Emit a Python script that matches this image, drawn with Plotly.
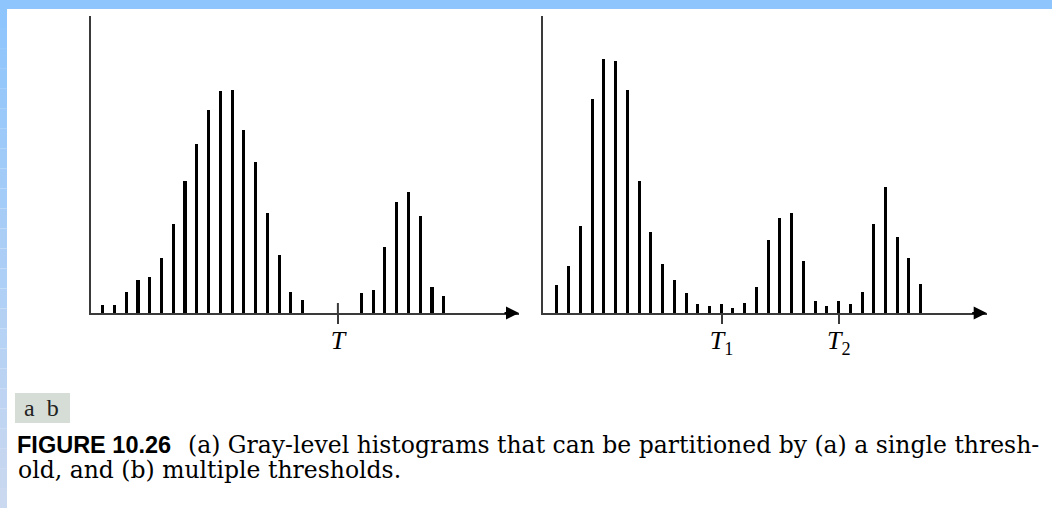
import plotly.graph_objects as go

# ---------------- data ----------------
levels_a = list(range(30))
counts_a = [8, 8, 21, 33, 36, 55, 89, 132, 169, 203, 222, 223, 183, 151, 100, 58, 21, 13,
            0, 0, 0, 0, 20, 23, 66, 111, 121, 97, 26, 17]
levels_b = list(range(32))
counts_b = [28, 47, 87, 214, 254, 252, 223, 132, 81, 49, 33, 20, 9, 7, 9, 5, 10, 26,
            73, 95, 100, 52, 12, 7, 12, 9, 21, 89, 126, 76, 55, 29]
thresh_a = [20]
thresh_a_labels = ["<i>T</i>"]
thresh_b = [14, 24]
thresh_b_labels = ["<i>T</i><sub>1</sub>", "<i>T</i><sub>2</sub>"]
panel_labels = "a\u00a0\u00a0b"
caption_bold = "FIGURE 10.26"
caption_line1 = "(a) Gray-level histograms that can be partitioned by (a) a single thresh-"
caption_line2 = "old, and (b) multiple thresholds."

W, H = 1052, 508
AX = "#3a3a3a"

fig = go.Figure()
fig.add_trace(go.Bar(x=levels_a, y=counts_a, width=0.26, marker=dict(color="black", line=dict(width=0)),
                     xaxis="x", yaxis="y", showlegend=False))
fig.add_trace(go.Bar(x=levels_b, y=counts_b, width=0.26, marker=dict(color="black", line=dict(width=0)),
                     xaxis="x2", yaxis="y2", showlegend=False))

def px(v, total):
    return v / total

ydom = [1 - 313 / H, 1 - 16 / H]
common_x = dict(showgrid=False, zeroline=False, showline=True, linecolor=AX, linewidth=2,
                ticks="outside", ticklen=9, tickwidth=2, tickcolor=AX, ticklabelstandoff=-6,
                tickfont=dict(family="Liberation Serif", size=26, color="black"),
                fixedrange=True)
common_y = dict(showgrid=False, zeroline=False, showline=True, linecolor=AX, linewidth=2,
                showticklabels=False, ticks="", range=[0, 297], fixedrange=True)

fig.update_layout(
    width=W, height=H, margin=dict(l=0, r=0, t=0, b=0),
    paper_bgcolor="white", plot_bgcolor="rgba(0,0,0,0)",
    bargap=0,
    xaxis=dict(domain=[px(91, W), px(519, W)], range=[-0.995, 35.40],
               tickvals=thresh_a, ticktext=thresh_a_labels, anchor="y", **common_x),
    yaxis=dict(domain=ydom, anchor="x", **common_y),
    xaxis2=dict(domain=[px(543.3, W), px(986.7, W)], range=[-1.19, 36.6],
                tickvals=thresh_b, ticktext=thresh_b_labels, anchor="y2", **common_x),
    yaxis2=dict(domain=ydom, anchor="x2", **common_y),
)

shapes = []
# blue frame: top strip and left gradient strip
shapes.append(dict(type="rect", xref="paper", yref="paper", x0=0, x1=1, y0=1 - 9 / H, y1=1,
                   fillcolor="rgb(142,197,252)", line=dict(width=0), layer="above"))
n = 25
c0 = (142, 197, 252)
c1 = (202, 216, 240)
for i in range(n):
    t = i / (n - 1)
    col = tuple(round(c0[k] + (c1[k] - c0[k]) * t) for k in range(3))
    top = 9 + (H - 9) * i / n
    bot = 9 + (H - 9) * (i + 1) / n
    shapes.append(dict(type="rect", xref="paper", yref="paper", x0=0, x1=7 / W,
                       y0=1 - bot / H, y1=1 - top / H,
                       fillcolor="rgb(%d,%d,%d)" % col, line=dict(width=0), layer="above"))
# gray box behind panel labels
shapes.append(dict(type="rect", xref="paper", yref="paper", x0=15 / W, x1=70 / W,
                   y0=1 - 423 / H, y1=1 - 393 / H, fillcolor="#d6dcd6", line=dict(width=0),
                   layer="below"))
# threshold tick part above the axis in panel (a)
for t in thresh_a:
    shapes.append(dict(type="line", xref="x", yref="y", x0=t, x1=t, y0=0, y1=10,
                       line=dict(color=AX, width=2)))
fig.update_layout(shapes=shapes)

ann = []
# axis arrows
for xa, ya, xr in (("x", "y", 35.40), ("x2", "y2", 36.6)):
    ann.append(dict(xref=xa, yref=ya, x=xr, y=0, ax=-16, ay=0, axref="pixel", ayref="pixel",
                    text="", showarrow=True, arrowhead=2, arrowsize=1.3, arrowwidth=2,
                    arrowcolor="black", standoff=0))
ann.append(dict(xref="paper", yref="paper", x=22 / W, y=1 - 408 / H, xanchor="left", yanchor="middle",
                text=panel_labels, showarrow=False,
                font=dict(family="Liberation Serif", size=24, color="#222")))
ann.append(dict(xref="paper", yref="paper", x=15 / W, y=1 - 445 / H, xanchor="left", yanchor="middle",
                text="<b>" + caption_bold + "</b>", showarrow=False,
                font=dict(family="Liberation Sans", size=23.5, color="black")))
ann.append(dict(xref="paper", yref="paper", x=186 / W, y=1 - 445 / H, xanchor="left", yanchor="middle",
                text=caption_line1, showarrow=False,
                font=dict(family="DejaVu Serif", size=23.5, color="black")))
ann.append(dict(xref="paper", yref="paper", x=16 / W, y=1 - 470 / H, xanchor="left", yanchor="middle",
                text=caption_line2, showarrow=False,
                font=dict(family="DejaVu Serif", size=23.5, color="black")))
fig.update_layout(annotations=ann)

fig.write_html("out.html", config={"displayModeBar": False},
               post_script="document.body.style.margin='0';document.body.style.overflow='hidden';")
